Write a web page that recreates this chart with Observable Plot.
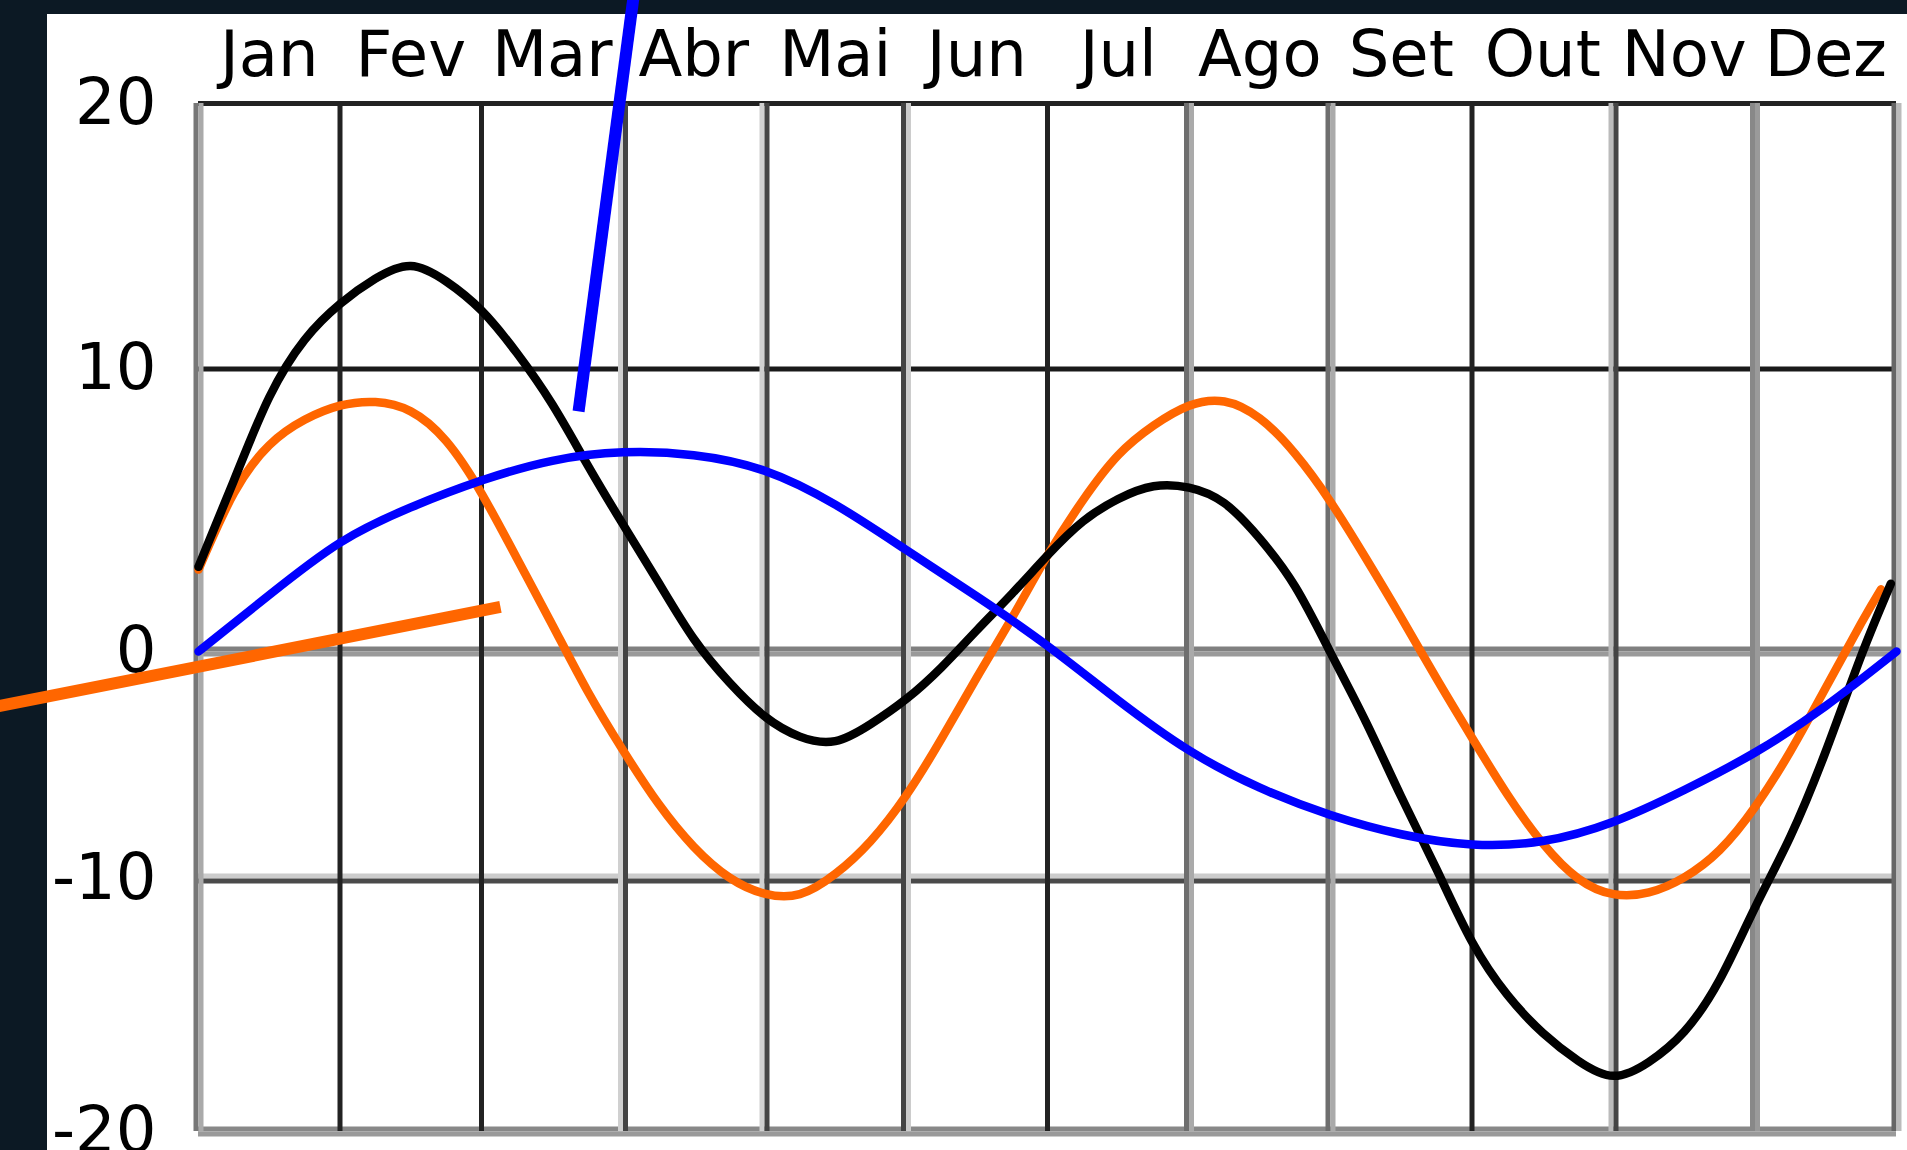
<!DOCTYPE html>
<html>
<head>
<meta charset="utf-8">
<script src="https://cdn.jsdelivr.net/npm/d3@7"></script>
<script src="https://cdn.jsdelivr.net/npm/@observablehq/plot@0.6"></script>
<style>
  html, body { margin: 0; padding: 0; overflow: hidden; background: #0c1924; width: 1907px; height: 1150px; }
  #paper { position: absolute; left: 47px; top: 14px; right: 0; bottom: 0; background: #ffffff; }
  #chart { position: absolute; left: 0; top: 0; }
</style>
</head>
<body>
<div id="paper"></div>
<div id="chart"></div>
<script>
// ---------- DATA ----------
const months = ["Jan", "Fev", "Mar", "Abr", "Mai", "Jun", "Jul", "Ago", "Set", "Out", "Nov", "Dez"];
const monthTickPos = [0.5, 1.5, 2.5, 3.5, 4.5, 5.5, 6.5, 7.5, 8.5, 9.5, 10.5, 11.5];
const monthGrid = [0, 1, 2, 3, 4, 5, 6, 7, 8, 9, 10, 11, 12];
const yTicks = [-20, -10, 0, 10, 20];

// positions (in months from the start of January) at which the curves were read
const blackX = [0, 0.25, 0.5, 0.75, 1, 1.25, 1.5, 1.75, 2, 2.25, 2.5, 2.75, 3, 3.25, 3.5, 3.75, 4, 4.25, 4.5, 4.75, 5, 5.25, 5.5, 5.75, 6, 6.25, 6.5, 6.75, 7, 7.25, 7.5, 7.75, 8, 8.25, 8.5, 8.75, 9, 9.25, 9.5, 9.75, 10, 10.25, 10.5, 10.75, 11, 11.25, 11.5, 11.75, 11.96];
const blackY = [3.0, 6.05, 9.0, 11.1, 12.45, 13.4, 13.88, 13.3, 12.2, 10.6, 8.75, 6.6, 4.5, 2.45, 0.45, -1.35, -2.85, -3.75, -3.95, -3.2, -2.1, -0.7, 0.75, 2.05, 3.4, 4.6, 5.4, 5.85, 5.8, 5.25, 4.0, 2.3, -0.05, -3.1, -6.4, -9.6, -12.5, -14.6, -16.1, -17.2, -17.8, -17.25, -16.05, -14.0, -11.15, -8.15, -4.4, -0.2, 2.4];

const orangeX = [0, 0.25, 0.5, 0.75, 1, 1.25, 1.5, 1.75, 2, 2.25, 2.5, 2.75, 3, 3.25, 3.5, 3.75, 4, 4.25, 4.5, 4.75, 5, 5.25, 5.5, 5.75, 6, 6.25, 6.5, 6.75, 7, 7.25, 7.5, 7.75, 8, 8.25, 8.5, 8.75, 9, 9.25, 9.5, 9.75, 10, 10.25, 10.5, 10.75, 11, 11.25, 11.5, 11.75, 11.89];
const orangeY = [2.9, 5.6, 7.3, 8.2, 8.7, 8.83, 8.5, 7.45, 5.6, 3.3, 0.95, -1.75, -4.35, -6.7, -8.6, -9.95, -10.6, -10.62, -9.8, -8.35, -6.35, -3.85, -1.15, 1.2, 3.4, 5.35, 6.95, 8.0, 8.7, 8.85, 8.25, 7.0, 5.3, 3.3, 1.2, -1.2, -3.8, -6.3, -8.45, -10.0, -10.62, -10.55, -9.95, -8.75, -6.85, -4.4, -1.6, 1.0, 2.2];

const blueX = [0, 0.5, 1.0, 1.5, 2.0, 2.5, 3.0, 3.5, 4.0, 4.5, 5.0, 5.5, 6.0, 6.5, 7.0, 7.5, 8.0, 8.5, 9.0, 9.5, 10.0, 10.5, 11.0, 11.5, 12.0];
const blueY = [0, 2.0, 3.85, 5.1, 6.05, 6.75, 7.05, 6.95, 6.4, 5.2, 3.6, 1.95, 0.2, -2.15, -4.35, -6.0, -7.2, -8.05, -8.5, -8.35, -7.5, -6.1, -4.45, -2.4, 0];

// leader lines (annotation pointers coming from outside the cropped picture)
const leaderX1 = [3.074, -1.42];
const leaderY1 = [24.0, -2.42];
const leaderX2 = [2.686, 2.134];
const leaderY2 = [8.5, 1.58];

// ---------- STYLE ----------
const vA = {0: "#777777", 3: "#d0d0d0", 4: "#d0d0d0", 5: "#444444", 7: "#6e6e6e", 8: "#6e6e6e", 10: "#bbbbbb", 11: "#888888", 12: "#666666"};
const vB = {0: "#aaaaaa", 3: "#444444", 4: "#444444", 5: "#cccccc", 7: "#aaaaaa", 8: "#aaaaaa", 10: "#444444", 11: "#9a9a9a", 12: "#bbbbbb"};
const vS = {1: "#222222", 2: "#222222", 6: "#222222", 9: "#222222"};
const hA = {"0": "#808080", "-10": "#cccccc", "-20": "#888888"};
const hB = {"0": "#9a9a9a", "-10": "#4a4a4a", "-20": "#9a9a9a"};
const hS = {"20": "#222222", "10": "#1a1a1a"};
const leaderColors = ["#0000ff", "#ff6600"];

const rows = (xs, ys) => xs.map((x, i) => ({x, v: ys[i]}));
const pick = (arr, map) => arr.filter(d => map[d] !== undefined);

const chart = Plot.plot({
  width: 1907,
  height: 1150,
  marginLeft: 198,
  marginRight: 11,
  marginTop: 103,
  marginBottom: 19,
  style: {background: "transparent", fontFamily: "'DejaVu Sans', sans-serif", fontSize: "64px", color: "#000", overflow: "visible"},
  x: {type: "linear", domain: [0, 12]},
  y: {type: "linear", domain: [-20, -10, 0, 10, 20], range: [1131, 878, 651, 368.5, 103]},
  marks: [
    // horizontal grid lines
    Plot.ruleY(pick(yTicks, hA), {y: d => d, x1: 0, x2: 12, stroke: d => hA[d], strokeWidth: 5, dy: -2.5}),
    Plot.ruleY(pick(yTicks, hB), {y: d => d, x1: 0, x2: 12, stroke: d => hB[d], strokeWidth: 5, dy: 2.5}),
    Plot.ruleY(pick(yTicks, hS), {y: d => d, x1: 0, x2: 12, stroke: d => hS[d], strokeWidth: 5}),
    // vertical grid lines
    Plot.ruleX(pick(monthGrid, vA), {x: d => d, y1: -20, y2: 20, stroke: d => vA[d], strokeWidth: 5, dx: -2.5}),
    Plot.ruleX(pick(monthGrid, vB), {x: d => d, y1: -20, y2: 20, stroke: d => vB[d], strokeWidth: 5, dx: 2.5}),
    Plot.ruleX(pick(monthGrid, vS), {x: d => d, y1: -20, y2: 20, stroke: d => vS[d], strokeWidth: 5}),
    // axes
    Plot.axisX({anchor: "top", ticks: monthTickPos, tickSize: 0, tickPadding: 28, tickFormat: d => months[Math.floor(d)], fontSize: 64, label: null}),
    Plot.axisY({anchor: "left", ticks: yTicks, tickSize: 0, tickPadding: 42, tickFormat: d => String(d), fontSize: 64, label: null}),
    // series
    Plot.line(rows(orangeX, orangeY), {x: "x", y: "v", stroke: "#ff6600", strokeWidth: 8.5, curve: "natural"}),
    Plot.line(rows(blackX, blackY), {x: "x", y: "v", stroke: "#000000", strokeWidth: 8.5, curve: "natural"}),
    Plot.line(rows(blueX, blueY), {x: "x", y: "v", stroke: "#0000ff", strokeWidth: 8.5, curve: "natural"}),
    // leader lines
    Plot.link(leaderX1.map((_, i) => i), {
      x1: i => leaderX1[i], y1: i => leaderY1[i],
      x2: i => leaderX2[i], y2: i => leaderY2[i],
      stroke: i => leaderColors[i], strokeWidth: 12, strokeLinecap: "butt"
    })
  ]
});
document.getElementById("chart").appendChild(chart);
</script>
</body>
</html>
